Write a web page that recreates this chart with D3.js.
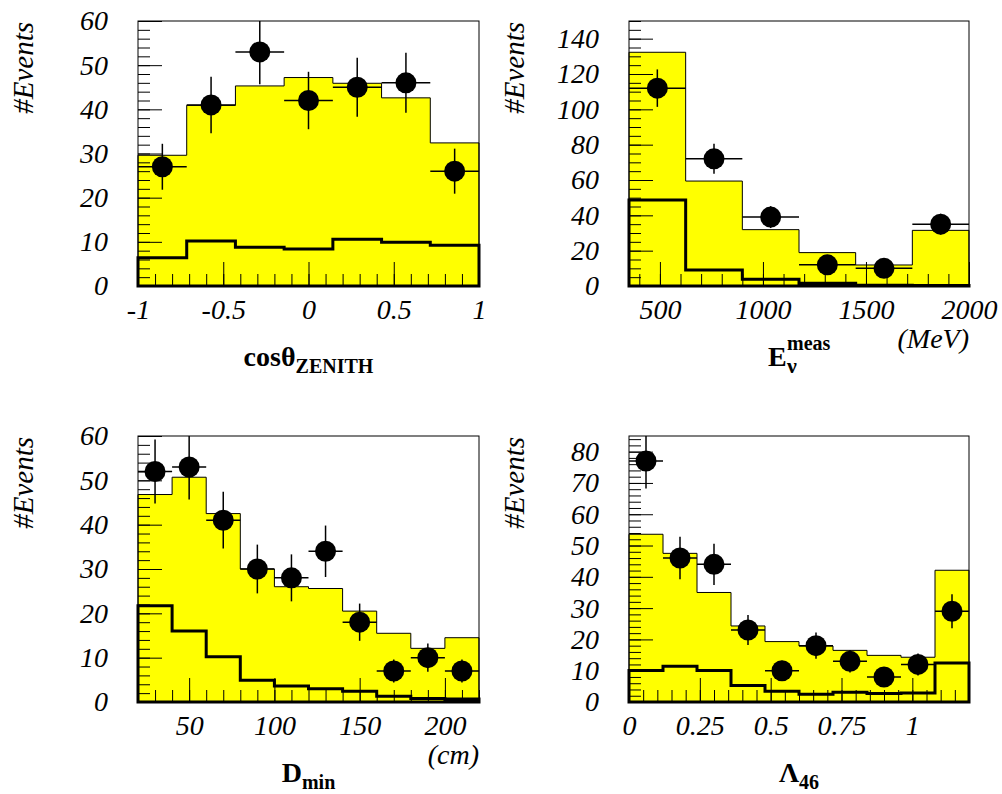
<!DOCTYPE html>
<html>
<head>
<meta charset="utf-8">
<script src="https://cdn.jsdelivr.net/npm/d3@7"></script>
</head>
<body style="margin:0;background:#fff">
<svg id="fig" width="1002" height="794"></svg>
<script>
// ---- cos(theta_zenith) ----
const cosEdges = [-1, -0.7143, -0.4286, -0.1429, 0.1429, 0.4286, 0.7143, 1];
const cosMC = [29.6, 40.9, 45.3, 47.2, 45.9, 42.6, 32.4];
const cosBG = [6.4, 10.2, 8.8, 8.4, 10.6, 9.9, 9.2];
const cosData = [27, 41, 53, 42, 45, 46, 26];
const cosErr = [5.2, 6.4, 7.3, 6.5, 6.7, 6.8, 5.1];
const cosXTicks = [-1, -0.5, 0, 0.5, 1];
const cosXLabels = ["-1", "-0.5", "0", "0.5", "1"];
const cosYTicks = [0, 10, 20, 30, 40, 50, 60];

// ---- E_nu measured (MeV) ----
const enuEdges = [350, 625, 900, 1175, 1450, 1725, 2000];
const enuMC = [132.3, 59.4, 31.9, 18.9, 11.9, 31.5];
const enuBG = [48.7, 9.1, 3.8, 1.5, 0.4, 0.3];
const enuData = [112, 72, 39, 12, 10, 35];
const enuErr = [10.6, 8.5, 6.2, 3.5, 3.2, 5.9];
const enuXTicks = [500, 1000, 1500, 2000];
const enuXLabels = ["500", "1000", "1500", "2000"];
const enuYTicks = [0, 20, 40, 60, 80, 100, 120, 140];

// ---- D_min (cm) ----
const dminEdges = [20, 40, 60, 80, 100, 120, 140, 160, 180, 200, 220];
const dminMC = [46.8, 50.7, 42.5, 30.0, 26.0, 25.6, 20.5, 15.5, 12.1, 14.5];
const dminBG = [21.7, 16.0, 10.2, 4.9, 3.6, 3.0, 2.4, 1.3, 0.8, 0.7];
const dminData = [52, 53, 41, 30, 28, 34, 18, 7, 10, 7];
const dminErr = [7.2, 7.3, 6.4, 5.5, 5.3, 5.8, 4.2, 2.6, 3.2, 2.6];
const dminXTicks = [50, 100, 150, 200];
const dminXLabels = ["50", "100", "150", "200"];
const dminYTicks = [0, 10, 20, 30, 40, 50, 60];

// ---- Lambda_46 ----
const lamEdges = [0, 0.12, 0.24, 0.36, 0.48, 0.6, 0.72, 0.84, 0.96, 1.08, 1.2];
const lamMC = [53.6, 47.5, 35.0, 24.3, 19.3, 17.9, 16.5, 14.9, 14.3, 42.1];
const lamBG = [10.1, 11.4, 10.1, 5.3, 3.4, 2.5, 3.1, 2.7, 2.9, 12.5];
const lamData = [77, 46, 44, 23, 10, 18, 13, 8, 12, 29];
const lamErr = [8.8, 6.8, 6.6, 4.8, 3.2, 4.2, 3.6, 2.8, 3.5, 5.4];
const lamXTicks = [0, 0.25, 0.5, 0.75, 1];
const lamXLabels = ["0", "0.25", "0.5", "0.75", "1"];
const lamYTicks = [0, 10, 20, 30, 40, 50, 60, 70, 80];

const svg = d3.select("#fig");
const YELLOW = "#ffff00";
const SERIF = "'Liberation Serif', 'Times New Roman', serif";

// serif font, forced so no outer rule can swap it
function serif(sel, size, italic, bold) {
    return sel.style("font-family", SERIF, "important")
        .style("font-size", size + "px", "important")
        .style("font-style", italic ? "italic" : "normal", "important")
        .style("font-weight", bold ? "bold" : "normal", "important");
}

function drawPanel(p, idx) {
    let g = svg.append("g").attr("transform", "translate(" + p.left + "," + p.top + ")");
    let x = d3.scaleLinear().domain([p.edges[0], p.edges[p.edges.length - 1]]).range([0, p.w]);
    let y = d3.scaleLinear().domain(p.yDomain).range([p.h, 0]);

    // MC histogram, filled
    let step = [];
    step.push([p.edges[0], 0]);
    p.mc.forEach((v, i) => { step.push([p.edges[i], v]); step.push([p.edges[i + 1], v]); });
    step.push([p.edges[p.edges.length - 1], 0]);
    let line = d3.line().x(d => x(d[0])).y(d => y(d[1]));
    g.append("path").attr("d", line(step)).attr("fill", YELLOW).attr("stroke", "none");

    // ticks (major + minor), pointing inward
    let xMinor = d3.range(p.xMinor[0], p.xMinor[1] + 1e-9, p.xMinor[2]);
    let yMinor = d3.range(p.yMinor[0], p.yMinor[1] + 1e-9, p.yMinor[2]);
    g.append("g").attr("transform", "translate(0," + p.h + ")")
        .call(d3.axisBottom(x).tickValues(xMinor).tickSize(-12).tickFormat(""));
    g.append("g").attr("transform", "translate(0," + p.h + ")")
        .call(d3.axisBottom(x).tickValues(p.xTicks).tickSize(-24).tickPadding(13)
            .tickFormat((d, i) => p.xLabels[i]));
    g.append("g")
        .call(d3.axisLeft(y).tickValues(yMinor).tickSize(-12).tickFormat(""));
    g.append("g")
        .call(d3.axisLeft(y).tickValues(p.yTicks).tickSize(-24).tickPadding(30)
            .tickFormat(d => String(d)));
    g.selectAll(".domain").remove();
    g.selectAll("g").attr("font-family", null);
    g.selectAll(".tick line").attr("stroke", "#000").attr("stroke-width", 1);
    serif(g.selectAll(".tick text"), 28, true, false).attr("fill", "#000");

    // MC outline
    g.append("path").attr("d", line(step)).attr("fill", "none")
        .attr("stroke", "#000").attr("stroke-width", 1);

    // background histogram, thick line
    let bstep = [];
    bstep.push([p.edges[0], 0]);
    p.bg.forEach((v, i) => { bstep.push([p.edges[i], v]); bstep.push([p.edges[i + 1], v]); });
    bstep.push([p.edges[p.edges.length - 1], 0]);
    g.append("path").attr("d", line(bstep) + "Z").attr("fill", "none")
        .attr("stroke", "#000").attr("stroke-width", 3).attr("stroke-linejoin", "miter");

    // data points
    let clipId = "clip" + idx;
    g.append("clipPath").attr("id", clipId).append("rect")
        .attr("x", 0).attr("y", 0).attr("width", p.w).attr("height", p.h);
    let pts = g.append("g").attr("clip-path", "url(#" + clipId + ")");
    p.data.forEach((v, i) => {
        let xc = x((p.edges[i] + p.edges[i + 1]) / 2);
        pts.append("line")
            .attr("x1", x(p.edges[i])).attr("x2", x(p.edges[i + 1]))
            .attr("y1", y(v)).attr("y2", y(v))
            .attr("stroke", "#000").attr("stroke-width", 1.5);
        pts.append("line")
            .attr("x1", xc).attr("x2", xc)
            .attr("y1", y(v - p.err[i])).attr("y2", y(v + p.err[i]))
            .attr("stroke", "#000").attr("stroke-width", 1.5);
        pts.append("circle").attr("cx", xc).attr("cy", y(v)).attr("r", 10.5).attr("fill", "#000");
    });

    // frame
    g.append("rect").attr("x", 0).attr("y", 0).attr("width", p.w).attr("height", p.h)
        .attr("fill", "none").attr("stroke", "#000").attr("stroke-width", 1);

    // y title
    serif(g.append("text"), 29, true, false)
        .attr("transform", "translate(" + (-105) + ",1) rotate(-90)")
        .attr("text-anchor", "end")
        .text("#Events");

    // x title
    p.title(g, p.w / 2, p.h + 80);
    if (p.unit) {
        serif(g.append("text"), 28, true, false)
            .attr("x", p.w).attr("y", p.h + 62)
            .attr("text-anchor", "end")
            .text(p.unit);
    }
}

function boldText(g, px) {
    return serif(g.append("text"), px, false, true);
}

function subTitle(main, sub) {
    return (g, cx, by) => {
        let t = boldText(g, 28).attr("x", cx).attr("y", by).attr("text-anchor", "middle");
        t.append("tspan").text(main);
        t.append("tspan").attr("dy", 7).style("font-size", "20px", "important").text(sub);
    };
}

const panels = [
    { left: 138, top: 21, w: 341, h: 265, edges: cosEdges, mc: cosMC, bg: cosBG,
      data: cosData, err: cosErr, yDomain: [0, 60],
      xTicks: cosXTicks, xLabels: cosXLabels, xMinor: [-1, 1, 0.1],
      yTicks: cosYTicks, yMinor: [0, 60, 2],
      title: subTitle("cos\u03b8", "ZENITH") },
    { left: 629, top: 21, w: 340, h: 265, edges: enuEdges, mc: enuMC, bg: enuBG,
      data: enuData, err: enuErr, yDomain: [0, 150],
      xTicks: enuXTicks, xLabels: enuXLabels, xMinor: [400, 2000, 100],
      yTicks: enuYTicks, yMinor: [0, 150, 5],
      unit: "(MeV)",
      title: (g, cx, by) => {
          boldText(g, 28).attr("x", cx - 31).attr("y", by).text("E");
          boldText(g, 20).attr("x", cx - 12).attr("y", by - 16).text("meas");
          boldText(g, 22).attr("x", cx - 12).attr("y", by + 7).text("\u03bd");
      } },
    { left: 138, top: 436, w: 341, h: 266, edges: dminEdges, mc: dminMC, bg: dminBG,
      data: dminData, err: dminErr, yDomain: [0, 60],
      xTicks: dminXTicks, xLabels: dminXLabels, xMinor: [20, 220, 10],
      yTicks: dminYTicks, yMinor: [0, 60, 2],
      unit: "(cm)",
      title: subTitle("D", "min") },
    { left: 629, top: 436, w: 340, h: 266, edges: lamEdges, mc: lamMC, bg: lamBG,
      data: lamData, err: lamErr, yDomain: [0, 85],
      xTicks: lamXTicks, xLabels: lamXLabels, xMinor: [0, 1.2, 0.05],
      yTicks: lamYTicks, yMinor: [0, 84, 2],
      title: subTitle("\u039b", "46") }
];

panels.forEach((p, i) => drawPanel(p, i));
</script>
</body>
</html>
